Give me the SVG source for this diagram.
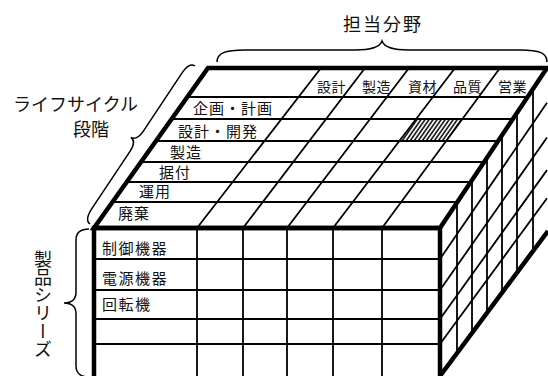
<svg xmlns="http://www.w3.org/2000/svg" width="548" height="376" viewBox="0 0 548 376">
<style>
.thick{stroke:#000;stroke-width:4.5;fill:none;stroke-linejoin:miter}
.thin{stroke:#000;stroke-width:1.8;fill:none}
.brace{stroke:#000;stroke-width:1.5;fill:none}
text{font-family:"Noto Sans CJK JP","Noto Sans",sans-serif;fill:#111}
.hd{font-size:14px;letter-spacing:0.5px}
.rl{font-size:15px;letter-spacing:1px}
.fl{font-size:15px;letter-spacing:1.5px}
.lb{font-size:18px}
</style>
<defs>
<pattern id="hatch" width="3.3" height="10" patternUnits="userSpaceOnUse" patternTransform="rotate(35)">
<line x1="1" y1="0" x2="1" y2="10" stroke="#000" stroke-width="1.5"/>
</pattern>
</defs>
<rect width="548" height="376" fill="#fff"/>

<g id="top-face">
<polygon points="208,68 547,68 440,228 94,228" fill="#fff"/>
<polygon points="416.1,119 462.4,119 446.2,141 399.3,141" fill="url(#hatch)"/>
<path class="thin" d="M187.3,97H527.7M171.7,119H513M156,141H498.3M141,162H484.3M126.8,182H471M112.5,202H457.6"/>
<path class="thin" d="M321,68L197,228M365,68L243,228M409,68L287,228M455,68L333,228M500,68L382,228"/>
<text class="hd" x="317" y="92">設計</text>
<text class="hd" x="362" y="92">製造</text>
<text class="hd" x="408" y="92">資材</text>
<text class="hd" x="453" y="92">品質</text>
<text class="hd" x="498" y="92">営業</text>
<text class="rl" x="193" y="114">企画・計画</text>
<text class="rl" x="178" y="137">設計・開発</text>
<text class="rl" x="170" y="158">製造</text>
<text class="rl" x="159" y="178">据付</text>
<text class="rl" x="139" y="197">運用</text>
<text class="rl" x="118" y="219">廃棄</text>
<polygon class="thick" points="208,68 547,68 440,228 94,228"/>
</g>

<g id="right-face">
<path class="thin" d="M457,202.6V352.5M472,180.1V332.6M487,157.7V312.8M502,135.3V292.9M517,112.9V273M533,88.9V251.9"/>
<path class="thin" d="M440,259L547,102.8M440,290L547,137.6M440,319L547,170.1M440,344L547,198.2"/>
<path class="thick" d="M440,376L548,231"/>
</g>

<g id="front-face">
<path class="thin" d="M94,259H440M94,290H440M94,319H440M94,344H440"/>
<path class="thin" d="M197,228V380M243,228V380M287,228V380M333,228V380M382,228V380"/>
<text class="fl" x="102" y="254">制御機器</text>
<text class="fl" x="102" y="284">電源機器</text>
<text class="fl" x="102" y="310">回転機</text>
<path class="thick" d="M94,380V228H440V380"/>
</g>

<g id="braces">
<path class="brace" d="M217,62C217,53 225,50 245,50L355,50C372,50 380,47 382,41C384,47 392,50 409,50L520,50C540,50 547,53 547,62"/>
<path class="brace" d="M195,66C190.8,63.2 186.4,66.3 180.9,74.6L143.2,131.3C138.8,137.9 134.1,139.6 130.8,137.4C134.1,139.6 134.4,144.6 130,151.3L92.3,207.9C86.8,216.2 85.8,221.2 90,224"/>
<path class="brace" d="M89,229C81,229 76,232 76,240L76,292C76,299 72,303 64,303C72,303 76,307 76,314L76,366C76,373 81,377 89,377"/>
</g>

<g id="labels">
<text class="lb" x="343" y="31" style="letter-spacing:2px">担当分野</text>
<text class="lb" x="13" y="111">ライフサイクル</text>
<text class="lb" x="73" y="136">段階</text>
<text class="lb" x="43" y="250" style="writing-mode:vertical-rl">製品シリーズ</text>
</g>
</svg>
